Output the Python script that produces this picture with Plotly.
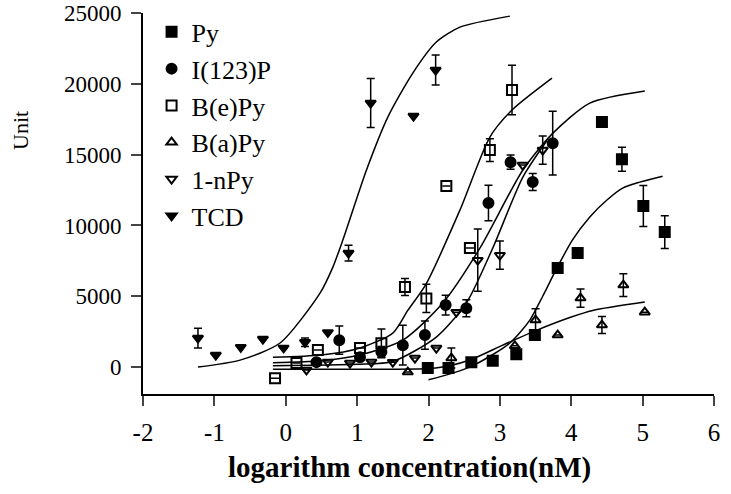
import plotly.graph_objects as go

# ---- data points (x = log concentration nM, y = Unit, e = error) ----
py_x = [1.99, 2.28, 2.60, 2.90, 3.23, 3.49, 3.81, 4.09, 4.43, 4.71, 5.01, 5.31]
py_y = [-70, -70, 350, 450, 900, 2260, 6990, 8050, 17300, 14680, 11370, 9530]
py_e = [0, 0, 0, 300, 0, 0, 0, 0, 0, 850, 1450, 1150]

ip_x = [0.43, 0.75, 1.04, 1.34, 1.64, 1.95, 2.24, 2.53, 2.84, 3.15, 3.46, 3.74]
ip_y = [350, 1900, 700, 1060, 1550, 2260, 4380, 4160, 11580, 14470, 13060, 15810]
ip_e = [0, 1000, 0, 400, 1400, 1000, 700, 600, 1250, 500, 600, 2250]

bep_x = [-0.15, 0.15, 0.45, 1.04, 1.34, 1.67, 1.97, 2.25, 2.58, 2.86, 3.17]
bep_y = [-780, 280, 1200, 1340, 1690, 5650, 4850, 12780, 8400, 15320, 19560]
bep_e = [0, 0, 0, 0, 1000, 600, 1000, 0, 0, 800, 1750]

bap_x = [1.71, 2.32, 3.21, 3.50, 3.81, 4.13, 4.43, 4.73, 5.03]
bap_y = [-350, 640, 1500, 3320, 2260, 4870, 2970, 5790, 3880]
bap_e = [0, 700, 0, 800, 0, 650, 600, 800, 0]

npy_x = [0.29, 0.59, 0.90, 1.20, 1.50, 1.81, 2.11, 2.39, 2.69, 3.00, 3.32, 3.60]
npy_y = [-200, 360, 280, 360, 350, 640, 1340, 3880, 7550, 7900, 14260, 15320]
npy_e = [0, 0, 0, 0, 0, 0, 0, 0, 2200, 1000, 0, 1000]

tcd_x = [-1.23, -0.98, -0.63, -0.32, -0.03, 0.27, 0.59, 0.88, 1.19, 1.79, 2.10]
tcd_y = [2050, 850, 1400, 1980, 1350, 1750, 2450, 8050, 18640, 17720, 20970]
tcd_e = [700, 0, 0, 0, 0, 300, 0, 560, 1730, 0, 1060]

# ---- fitted curves ----
tcd_cx = [-1.23, -0.64, -0.08, 0.48, 0.66, 0.80, 1.13, 1.43, 1.78, 2.11, 2.44, 3.14]
tcd_cy = [0, 490, 1700, 5220, 7060, 8970, 13900, 17650, 20760, 22950, 24000, 24780]

bep_cx = [-0.18, 0.5, 1.04, 1.50, 1.71, 1.97, 2.44, 2.86, 3.17, 3.73]
bep_cy = [700, 850, 1350, 2400, 4000, 5900, 11080, 16240, 18150, 20400]

ip_cx = [-0.18, 0.5, 1.04, 1.64, 2.20, 2.72, 3.32, 3.74, 4.26, 5.03]
ip_cy = [300, 450, 850, 1900, 4520, 8400, 13900, 16500, 18640, 19490]

npy_cx = [-0.18, 1.0, 1.5, 2.11, 2.53, 2.90, 3.32, 3.66]
npy_cy = [100, 200, 400, 2120, 4520, 8400, 13400, 16000]

bap_cx = [-0.18, 1.0, 2.10, 2.58, 3.04, 3.52, 3.98, 4.30, 5.03]
bap_cy = [-150, -150, -70, 500, 1550, 2610, 3500, 4000, 4590]

py_cx = [2.00, 2.58, 3.14, 3.42, 3.60, 3.80, 4.02, 4.26, 4.50, 4.72, 4.96, 5.28]
py_cy = [-900, 0, 1700, 3320, 5000, 7000, 9000, 10600, 11800, 12640, 13060, 13480]

x_ticks = [-2, -1, 0, 1, 2, 3, 4, 5, 6]
x_labels = ["-2", "-1", "0", "1", "2", "3", "4", "5", "6"]
y_ticks = [0, 5000, 10000, 15000, 20000, 25000]
y_labels = ["0", "5000", "10000", "15000", "20000", "25000"]

FONT = "Liberation Serif"
fig = go.Figure()

curves = [(tcd_cx, tcd_cy), (bep_cx, bep_cy), (ip_cx, ip_cy),
          (npy_cx, npy_cy), (bap_cx, bap_cy), (py_cx, py_cy)]
for cx, cy in curves:
    fig.add_trace(go.Scatter(x=cx, y=cy, mode="lines",
                             line=dict(color="black", width=1.5, shape="spline", smoothing=0.7),
                             showlegend=False, hoverinfo="skip"))

series = [
    ("Py", py_x, py_y, py_e, "square", 10),
    ("I(123)P", ip_x, ip_y, ip_e, "circle", 10),
    ("B(e)Py", bep_x, bep_y, bep_e, "square-open", 10),
    ("B(a)Py", bap_x, bap_y, bap_e, "triangle-up-open", 9),
    ("1-nPy", npy_x, npy_y, npy_e, "triangle-down-open", 9),
    ("TCD", tcd_x, tcd_y, tcd_e, "triangle-down", 9),
]
for name, xs, ys, es, sym, sz in series:
    fig.add_trace(go.Scatter(
        x=xs, y=ys, mode="markers", name=name, legendgroup=name,
        marker=dict(symbol=sym, size=sz, color="black", line=dict(color="black", width=2)),
        error_y=dict(type="data", array=es, visible=True, color="black", thickness=1.5, width=4),
    ))

fig.update_layout(
    width=731, height=494,
    margin=dict(l=143, r=17, t=13, b=100, autoexpand=False),
    plot_bgcolor="white", paper_bgcolor="white",
    font=dict(family=FONT, size=24, color="black"),
    legend=dict(x=0.015, y=1.012, xanchor="left", yanchor="top", bgcolor="rgba(0,0,0,0)",
                font=dict(family=FONT, size=26, color="black"), tracegroupgap=0, itemwidth=30),
    xaxis=dict(range=[-2, 6], tickvals=x_ticks, ticktext=x_labels, ticks="outside", ticklen=10, tickwidth=2,
               showline=True, linecolor="black", linewidth=2, showgrid=False, zeroline=False,
               automargin=False, ticklabelstandoff=5, ticklabeloverflow="allow",
               tickfont=dict(family=FONT, size=25, color="black")),
    yaxis=dict(range=[-1900, 25000], tickvals=y_ticks, ticktext=y_labels, ticks="outside", ticklen=10,
               tickwidth=2, showline=True, linecolor="black", linewidth=2, showgrid=False, zeroline=False,
               automargin=False, ticklabelstandoff=5, ticklabeloverflow="allow",
               tickfont=dict(family=FONT, size=23, color="black")),
    annotations=[
        dict(text="<b>logarithm concentration(nM)</b>", xref="paper", yref="paper",
             x=0.466, y=0, yshift=-73, xanchor="center", yanchor="middle", showarrow=False,
             font=dict(family=FONT, size=29, color="black")),
        dict(text="Unit", xref="paper", yref="paper", x=-0.2137, y=0.693, textangle=-90,
             xanchor="center", yanchor="middle", showarrow=False,
             font=dict(family=FONT, size=22, color="black")),
    ],
)

# remove the page's default body margin so the figure sits at the window's corner
fig.write_html("out.html", config={"displayModeBar": False},
               post_script="document.body.style.margin='0';")
